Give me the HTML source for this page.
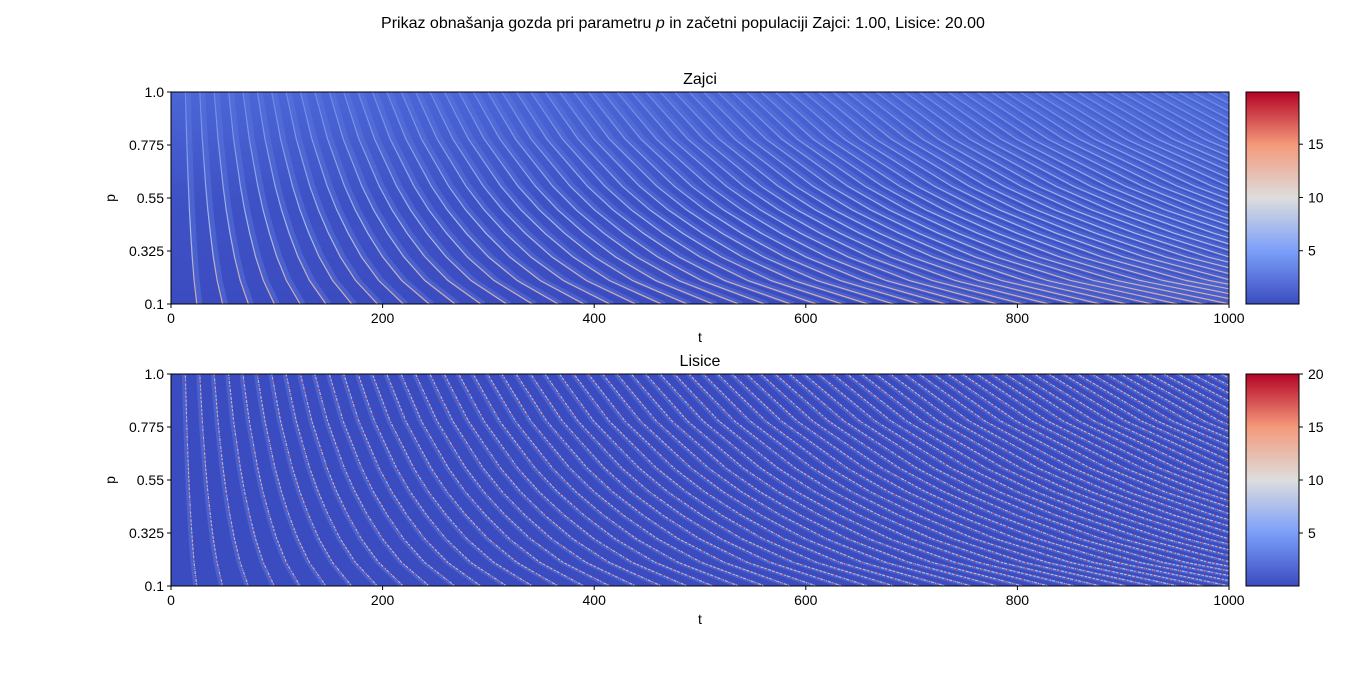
<!DOCTYPE html>
<html><head><meta charset="utf-8"><style>
body{margin:0;background:#fff;width:1366px;height:671px;overflow:hidden}
svg text{font-family:"Liberation Sans","DejaVu Sans",sans-serif;fill:#000}
</style></head><body>
<svg id="chart" width="1366" height="671" viewBox="0 0 1366 671">
<defs>
<linearGradient id="cw" x1="0" y1="1" x2="0" y2="0">
<stop offset="0" stop-color="#3b4cc0"/><stop offset="0.25" stop-color="#7b9ff9"/><stop offset="0.5" stop-color="#dddddd"/><stop offset="0.75" stop-color="#f49a7b"/><stop offset="1" stop-color="#b40426"/>
</linearGradient>
<linearGradient id="bgTop" x1="0" y1="1" x2="0" y2="0"><stop offset="0" stop-color="#3b4cc0"/><stop offset="0.5" stop-color="#3f52c5"/><stop offset="1" stop-color="#4c66d6"/></linearGradient>
<linearGradient id="rabStroke" gradientUnits="userSpaceOnUse" x1="0" y1="304" x2="0" y2="92"><stop offset="0" stop-color="#eeb8a0"/><stop offset="0.35" stop-color="#b8caf0"/><stop offset="1" stop-color="#6f8fea"/></linearGradient>
<clipPath id="c1"><rect x="171" y="92" width="1058" height="212"/></clipPath>
<clipPath id="c2"><rect x="171" y="374" width="1058" height="212"/></clipPath>
</defs>
<text x="683" y="28" text-anchor="middle" font-size="16">Prikaz obnašanja gozda pri parametru <tspan font-style="italic">p</tspan> in začetni populaciji Zajci: 1.00, Lisice: 20.00</text>
<g id="g1" clip-path="url(#c1)"><rect x="171" y="92" width="1058" height="212" fill="url(#bgTop)"/></g>
<g id="g2" clip-path="url(#c2)"><rect x="171" y="374" width="1058" height="212" fill="#3b4cc0"/></g>
<g id="axes"></g>
</svg>
<script>
const pValues=[0.1,0.2,0.3,0.4,0.5,0.6,0.7,0.8,0.9,1.0];
const periods=[24.4,21.8,20.0,18.6,17.4,16.4,15.6,14.8,14.2,13.6];
const xTicks=[0,200,400,600,800,1000];
const yTicks=[0.1,0.325,0.55,0.775,1.0];
const yTickLabels=["0.1","0.325","0.55","0.775","1.0"];
const cbTicks1=[5,10,15];const cbMax1=19.9;
const cbTicks2=[5,10,15,20];const cbMax2=20;
const NS="http://www.w3.org/2000/svg";
const svg=document.getElementById('chart');
function X(t){return 171+t*1.058;}
function Y(p,top){return top+212-(p-0.1)/0.9*212;}
function mk(tag,attrs,parent){const e=document.createElementNS(NS,tag);for(const k in attrs)e.setAttribute(k,attrs[k]);(parent||svg).appendChild(e);return e;}
function drawLines(g,top,fox){
 for(let k=1;k<=80;k++){
  let d="";
  pValues.forEach((p,i)=>{d+=(i?"L":"M")+X(k*periods[i]).toFixed(1)+","+Y(p,top).toFixed(1);});
  if(!fox){
   const band=mk('path',{d:d,fill:"none",stroke:"#5a79de","stroke-width":5,opacity:0.45,transform:"translate(3,0)"},g);
   
   
   const l=mk('path',{d:d,fill:"none",stroke:"url(#rabStroke)","stroke-width":1.2,opacity:0.85},g);
   
   
  }else{
   const band=mk('path',{d:d,fill:"none",stroke:"#6a8ae6","stroke-width":3,opacity:0.35,transform:"translate(-2,0)"},g);
   
   
   const l=mk('path',{d:d,fill:"none",stroke:"#c8d4f0","stroke-width":1.1,opacity:0.8,"stroke-dasharray":"3 1"},g);
   
   
   const r=mk('path',{d:d,fill:"none",stroke:"#d8402e","stroke-width":1.2,"stroke-dasharray":"1.5 7"},g);
   
   
  }
 }
}
drawLines(document.getElementById('g1'),92,false);
drawLines(document.getElementById('g2'),374,true);
const ax=document.getElementById('axes');
function panel(top,title,cbTicks,cbMax,name){
 const f=mk('rect',{x:171,y:top,width:1058,height:212,fill:"none",stroke:"#000","stroke-width":1},ax);
 
 const tt=mk('text',{x:700,y:top-8,"text-anchor":"middle","font-size":16},ax);tt.textContent=title;
 
 xTicks.forEach(t=>{mk('line',{x1:X(t),x2:X(t),y1:top+212,y2:top+216,stroke:"#000"},ax);
  const tx=mk('text',{x:X(t),y:top+231,"text-anchor":"middle","font-size":14},ax);tx.textContent=t;
  });
 yTicks.forEach((p,i)=>{mk('line',{x1:167,x2:171,y1:Y(p,top),y2:Y(p,top),stroke:"#000"},ax);
  const tx=mk('text',{x:164,y:Y(p,top)+5,"text-anchor":"end","font-size":14},ax);tx.textContent=yTickLabels[i];
  });
 const xl=mk('text',{x:700,y:top+250,"text-anchor":"middle","font-size":14},ax);xl.textContent="t";
 
 const yl=mk('text',{x:115,y:top+106,"text-anchor":"middle","font-size":14,transform:`rotate(-90 115 ${top+106})`},ax);yl.textContent="p";
 
 const cb=mk('rect',{x:1246,y:top,width:53,height:212,fill:"url(#cw)",stroke:"#000","stroke-width":1},ax);
 
 cbTicks.forEach(v=>{const y=top+212-v/cbMax*212;
  mk('line',{x1:1299,x2:1303,y1:y,y2:y,stroke:"#000"},ax);
  const tx=mk('text',{x:1308,y:y+5,"font-size":14},ax);tx.textContent=v;
  });
}
panel(92,"Zajci",cbTicks1,cbMax1,'zajci');
panel(374,"Lisice",cbTicks2,cbMax2,'lisice');
</script>
</body></html>
